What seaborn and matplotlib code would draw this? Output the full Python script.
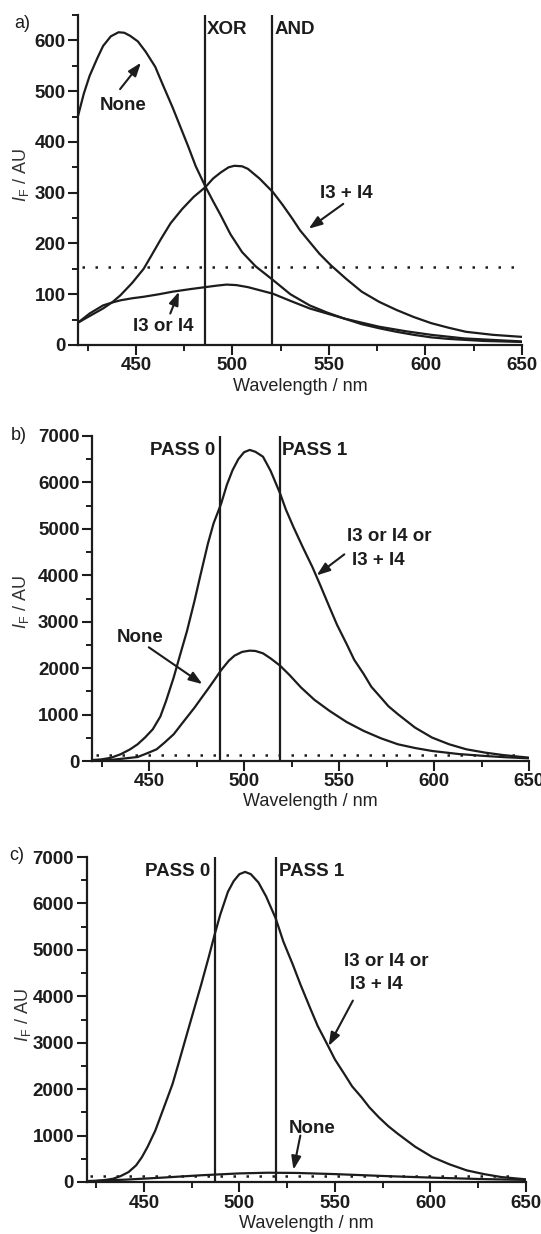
import numpy as np
import pandas as pd
import matplotlib
matplotlib.use("Agg")
import matplotlib.pyplot as plt
import seaborn as sns
from matplotlib.ticker import MultipleLocator

# ---------------- data ----------------
# panel a
a_none_x = [420, 423, 426, 430, 433, 437, 441, 444, 447, 451, 455, 460, 464, 469, 473, 477, 481, 486, 490, 494, 499, 505, 512, 521, 530, 540, 549, 558, 567, 576, 585, 594, 603, 612, 630, 650]
a_none_y = [451, 495, 530, 565, 589, 608, 616, 615, 609, 598, 578, 548, 512, 468, 430, 392, 352, 312, 283, 255, 218, 183, 155, 128, 100, 78, 64, 52, 41, 33, 26, 20, 15, 12, 8, 6]
a_and_x = [420, 426, 433, 438, 442, 448, 454, 458, 463, 468, 474, 480, 486, 490, 494, 498, 501, 505, 508, 514, 521, 526, 531, 535, 540, 545, 551, 559, 567, 576, 585, 594, 603, 612, 621, 635, 650]
a_and_y = [44, 57, 72, 85, 98, 122, 150, 176, 209, 240, 268, 292, 311, 328, 340, 350, 353, 352, 347, 328, 301, 276, 249, 226, 203, 180, 157, 130, 105, 85, 69, 55, 43, 34, 26, 20, 16]
a_or_x = [420, 426, 433, 438, 442, 448, 454, 462, 469, 478, 486, 492, 497, 502, 508, 514, 521, 530, 540, 549, 558, 567, 576, 590, 603, 620, 635, 650]
a_or_y = [44, 62, 78, 84, 88, 92, 95, 100, 105, 110, 114, 117, 119, 118, 114, 108, 101, 87, 72, 62, 52, 44, 36, 27, 20, 13, 10, 7]
a_thr = 153
a_vlines = [485.7, 520.7]
a_vlabels = ["XOR", "AND"]

# panel b
b_all_x = [420, 425, 430, 435, 440, 444, 448, 452, 456, 459, 463, 466, 470, 474, 477, 481, 484, 488, 491, 494, 497, 500, 503, 506, 510, 514, 519, 522, 526, 531, 536, 540, 545, 549, 554, 558, 563, 567, 572, 576, 581, 590, 599, 608, 617, 627, 636, 643, 650]
b_all_y = [20, 35, 70, 144, 250, 360, 510, 684, 960, 1296, 1800, 2233, 2800, 3457, 3990, 4681, 5120, 5546, 5950, 6266, 6500, 6650, 6700, 6660, 6554, 6250, 5762, 5420, 5041, 4600, 4177, 3800, 3313, 2930, 2521, 2180, 1873, 1600, 1368, 1180, 1008, 720, 504, 360, 252, 180, 130, 100, 72]
b_none_x = [420, 425, 430, 436, 440, 444, 448, 451, 454, 458, 463, 468, 474, 478, 481, 485, 488, 492, 495, 499, 503, 506, 510, 514, 519, 524, 530, 537, 545, 554, 563, 572, 581, 590, 599, 613, 627, 638, 650]
b_none_y = [5, 12, 25, 50, 68, 86, 150, 200, 252, 390, 576, 840, 1152, 1380, 1548, 1780, 1959, 2160, 2269, 2350, 2377, 2370, 2319, 2210, 2053, 1850, 1584, 1320, 1080, 840, 648, 490, 360, 280, 216, 150, 108, 80, 58]
b_thr = 140
b_vlines = [487.6, 518.7]

# panel c
c_all_x = [420, 425, 430, 434, 438, 442, 446, 449, 452, 456, 460, 465, 468, 472, 476, 480, 484, 487, 490, 494, 497, 500, 503, 506, 510, 514, 519, 523, 528, 532, 537, 541, 546, 550, 555, 559, 564, 568, 573, 578, 583, 592, 601, 610, 619, 628, 637, 644, 650]
c_all_y = [10, 20, 45, 71, 130, 214, 360, 536, 760, 1107, 1550, 2107, 2530, 3107, 3680, 4250, 4850, 5321, 5760, 6250, 6480, 6630, 6679, 6630, 6450, 6150, 5679, 5180, 4679, 4250, 3750, 3360, 2964, 2640, 2321, 2060, 1821, 1610, 1393, 1200, 1036, 760, 536, 380, 250, 170, 107, 80, 57]
c_none_x = [420, 440, 460, 480, 500, 515, 530, 550, 575, 600, 625, 650]
c_none_y = [20, 50, 95, 145, 185, 200, 195, 170, 130, 95, 65, 45]
c_thr = 125
c_vlines = [487.0, 519.3]
pass_labels = ["PASS 0", "PASS 1"]

xticks = [450, 500, 550, 600, 650]
xtick_labels = ["450", "500", "550", "600", "650"]
a_yticks = [0, 100, 200, 300, 400, 500, 600]
bc_yticks = [0, 1000, 2000, 3000, 4000, 5000, 6000, 7000]

# ---------------- style ----------------
sns.set_theme(style="ticks")
plt.rcParams["font.family"] = ["Liberation Sans", "DejaVu Sans"]
plt.rcParams["mathtext.fontset"] = "custom"
plt.rcParams["mathtext.rm"] = "Liberation Sans"
plt.rcParams["mathtext.it"] = "Liberation Sans:italic"

INK = "#1c1c1c"
LW = 1.6
FS_TICK = 13.5
FS_ANN = 13.5

fig = plt.figure(figsize=(5.41, 12.34), dpi=100)
W, H = 541, 1234


def rect(l, r, t, b):
    return [l / W, 1 - b / H, (r - l) / W, (b - t) / H]


ax_a = fig.add_axes(rect(78, 522, 15, 345))
ax_b = fig.add_axes(rect(92, 529, 436, 761))
ax_c = fig.add_axes(rect(86.5, 526, 857, 1182))


def draw_curves(ax, curves):
    frames = []
    for name, xs, ys in curves:
        frames.append(pd.DataFrame({"wl": xs, "val": ys, "series": name}))
    df = pd.concat(frames, ignore_index=True)
    sns.lineplot(data=df, x="wl", y="val", units="series", estimator=None,
                 color=INK, lw=LW, ax=ax, legend=False, sort=False)


def style_axes(ax, ylim, yticks, yminor, ylab_x, ylab_y):
    ax.set_xlim(420, 650)
    ax.set_ylim(*ylim)
    ax.set_xticks(xticks)
    ax.set_xticklabels(xtick_labels, fontweight="bold", fontsize=FS_TICK)
    ax.set_yticks(yticks)
    ax.set_yticklabels([str(v) for v in yticks], fontweight="bold", fontsize=FS_TICK)
    ax.xaxis.set_minor_locator(MultipleLocator(25))
    ax.yaxis.set_minor_locator(MultipleLocator(yminor))
    ax.tick_params(which="major", direction="out", length=7, width=1.5,
                   colors=INK, pad=2)
    ax.tick_params(which="minor", direction="out", length=4, width=1.4, colors=INK)
    sns.despine(ax=ax)
    for s in ["left", "bottom"]:
        ax.spines[s].set_linewidth(1.6)
        ax.spines[s].set_color(INK)
    ax.set_xlabel("Wavelength / nm", fontsize=13, color="#222222")
    ax.xaxis.set_label_coords(0.5, -0.1)
    ax.set_ylabel(r"$I_{\mathrm{F}}$ / AU", fontsize=13, color="#333333")
    ax.yaxis.set_label_coords(ylab_x, ylab_y)
    ax.grid(False)


def threshold(ax, y):
    ax.plot([422, 646], [y, y], color=INK, lw=1.8, linestyle=(0, (1, 4.2)))


def vlines(ax, xs):
    for x in xs:
        ax.axvline(x, color=INK, lw=1.6)


def arrow(ax, tail, tip):
    ax.annotate("", xy=tip, xytext=tail,
                arrowprops=dict(arrowstyle="-|>,head_length=0.5,head_width=0.18",
                                color=INK, lw=1.5, mutation_scale=16,
                                shrinkA=0, shrinkB=0))


def label(ax, x, y, s, ha="center"):
    ax.text(x, y, s, fontsize=FS_ANN, fontweight="bold", color=INK,
            ha=ha, va="center")


# ---------------- panel a ----------------
draw_curves(ax_a, [("None", a_none_x, a_none_y),
                   ("I3 + I4", a_and_x, a_and_y),
                   ("I3 or I4", a_or_x, a_or_y)])
vlines(ax_a, a_vlines)
threshold(ax_a, a_thr)
style_axes(ax_a, (0, 650), a_yticks, 50, -0.106, 0.515)
label(ax_a, a_vlines[0] + 1.0, 621, a_vlabels[0], ha="left")
label(ax_a, a_vlines[1] + 1.0, 621, a_vlabels[1], ha="left")
label(ax_a, 443.6, 471, "None")
arrow(ax_a, (441.8, 504), (452.6, 556))
label(ax_a, 559, 298, "I3 + I4")
arrow(ax_a, (557.4, 278), (539.5, 229))
label(ax_a, 464, 36, "I3 or I4")
arrow(ax_a, (467.8, 62), (472.3, 105))

# ---------------- panel b ----------------
draw_curves(ax_b, [("all", b_all_x, b_all_y), ("None", b_none_x, b_none_y)])
vlines(ax_b, b_vlines)
threshold(ax_b, b_thr)
style_axes(ax_b, (0, 7000), bc_yticks, 500, -0.14, 0.489)
label(ax_b, b_vlines[0] - 2.5, 6683, pass_labels[0], ha="right")
label(ax_b, b_vlines[1] + 1.3, 6683, pass_labels[1], ha="left")
label(ax_b, 576.5, 4825, "I3 or I4 or")
label(ax_b, 570.5, 4320, "I3 + I4")
arrow(ax_b, (552.8, 4451), (538.2, 3997))
label(ax_b, 445.3, 2650, "None")
arrow(ax_b, (449.9, 2449), (478.1, 1656))

# ---------------- panel c ----------------
draw_curves(ax_c, [("all", c_all_x, c_all_y), ("None", c_none_x, c_none_y)])
vlines(ax_c, c_vlines)
threshold(ax_c, c_thr)
style_axes(ax_c, (0, 7000), bc_yticks, 500, -0.122, 0.514)
label(ax_c, c_vlines[0] - 2.5, 6679, pass_labels[0], ha="right")
label(ax_c, c_vlines[1] + 1.3, 6679, pass_labels[1], ha="left")
label(ax_c, 577, 4750, "I3 or I4 or")
label(ax_c, 571.6, 4250, "I3 + I4")
arrow(ax_c, (559.4, 3907), (546.7, 2929))
label(ax_c, 538.2, 1143, "None")
arrow(ax_c, (531.9, 1000), (528.3, 264))

# panel letters
fig.text(22 / W, 1 - 23 / H, "a)", fontsize=13, ha="center", va="center", color=INK)
fig.text(19 / W, 1 - 436 / H, "b)", fontsize=13, ha="center", va="center", color=INK)
fig.text(17 / W, 1 - 856 / H, "c)", fontsize=13, ha="center", va="center", color=INK)

fig.savefig("out.png", dpi=100, facecolor="white")
